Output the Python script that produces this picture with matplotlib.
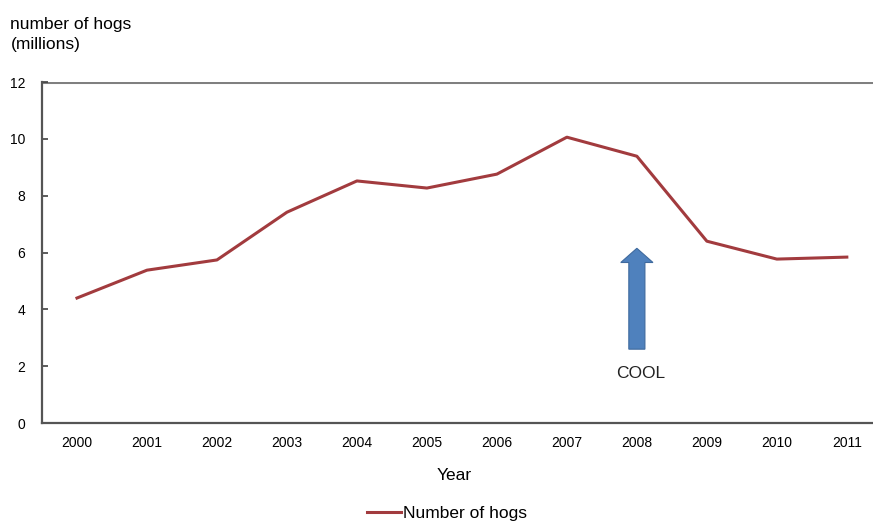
import matplotlib.pyplot as plt
from matplotlib.patches import FancyArrow

plt.rcParams['font.family'] = ['Liberation Sans', 'DejaVu Sans']

years = ['2000', '2001', '2002', '2003', '2004', '2005',
         '2006', '2007', '2008', '2009', '2010', '2011']
hogs_millions = [4.40, 5.38, 5.74, 7.42, 8.52, 8.27,
                 8.76, 10.06, 9.39, 6.40, 5.77, 5.84]
y_ticks = [0, 2, 4, 6, 8, 10, 12]

fig = plt.figure(figsize=(8.73, 5.21), dpi=100)
ax = fig.add_axes([0.0481, 0.188, 0.962, 0.6545])

x = list(range(len(years)))
ax.plot(x, hogs_millions, color='#A23B3E', lw=2.2, label='Number of hogs')

ax.set_xlim(-0.5, len(years) - 0.5)
ax.set_ylim(0, 12)
ax.set_xticks(x)
ax.set_xticklabels(years)
ax.set_yticks(y_ticks)
ax.tick_params(axis='x', length=0, pad=9, labelsize=10)
ax.tick_params(axis='y', direction='in', length=4, width=1.2, color='#404040',
               pad=12, labelsize=10)

for side in ['top', 'right']:
    ax.spines[side].set_visible(False)
for side in ['left', 'bottom']:
    ax.spines[side].set_color('#555555')
    ax.spines[side].set_linewidth(1.6)
ax.axhline(12, color='#808080', lw=2.2, zorder=0)

fig.text(454 / 873, 1 - 476 / 521, 'Year', fontsize=12.5,
         ha='center', va='center')

# COOL arrow pointing up at 2008
idx = years.index('2008')
ax.add_patch(FancyArrow(idx, 2.6, 0, 3.55, width=0.23, head_width=0.46,
                        head_length=0.5, length_includes_head=True,
                        facecolor='#4F81BD', edgecolor='#3F6A9E', lw=0.8))
ax.text(idx + 0.05, 1.75, 'COOL', ha='center', va='center', fontsize=12.5,
        color='#222222')

fig.text(0.012, 1 - 25 / 521, 'number of hogs', fontsize=12.5, va='center')
fig.text(0.012, 1 - 45 / 521, '(millions)', fontsize=12.5, va='center')

fig.legend(loc='center', bbox_to_anchor=(0.512, 0.015), frameon=False,
           fontsize=12.5, handlelength=2.0, handletextpad=0.1)

fig.savefig('out.png', dpi=100)
